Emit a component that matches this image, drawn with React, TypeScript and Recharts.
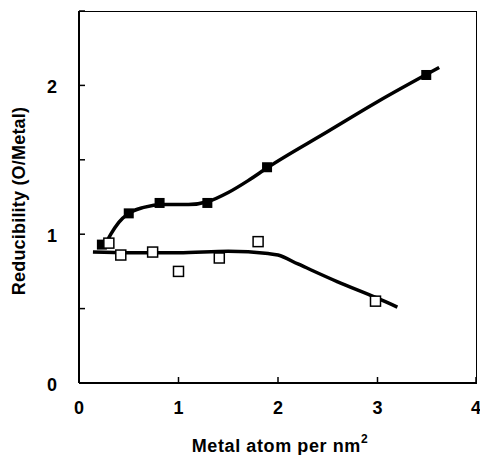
import { ComposedChart, Line, Scatter, XAxis, YAxis } from "recharts";

// measured points (filled = reduced, open = other series)
const filledX = [0.23, 0.5, 0.81, 1.29, 1.89, 3.49];
const filledY = [0.93, 1.14, 1.21, 1.21, 1.45, 2.07];
const openX = [0.3, 0.42, 0.74, 1.0, 1.41, 1.8, 2.98];
const openY = [0.94, 0.86, 0.88, 0.75, 0.84, 0.95, 0.55];

// hand-drawn fit curves
const upperCurveX = [0.25, 0.32, 0.4, 0.5, 0.65, 0.85, 1.1, 1.3, 1.5, 1.7, 1.9, 2.5, 3.0, 3.62];
const upperCurveY = [0.91, 1.0, 1.08, 1.14, 1.18, 1.2, 1.2, 1.22, 1.28, 1.36, 1.45, 1.69, 1.89, 2.12];
const lowerCurveX = [0.14, 0.5, 1.0, 1.5, 1.9, 2.0, 2.2, 2.6, 3.0, 3.2];
const lowerCurveY = [0.88, 0.875, 0.875, 0.885, 0.87, 0.86, 0.8, 0.68, 0.57, 0.51];

// top and right edges of the plot box, in data units
const frameX = [0, 4, 4];
const frameY = [2.5, 2.5, 0];

const xTicks = [0, 1, 2, 3, 4];
const yTicks = [0, 0.5, 1, 1.5, 2, 2.5];
const yLabelled = [0, 1, 2];

const zip = (xs: number[], ys: number[]) => xs.map((x, i) => ({ x, y: ys[i] }));

const FONT = "'Liberation Sans', Arial, sans-serif";

function XTick(props: any) {
  const { x, y, payload } = props;
  return (
    <g>
      <path d={`M${x},${y} V${y - 6}`} stroke="#000" strokeWidth={1.5} />
      <text x={x} y={y + 31} textAnchor="middle" fontFamily={FONT} fontWeight="bold" fontSize={18} fill="#000">
        {payload.value}
      </text>
    </g>
  );
}

function YTick(props: any) {
  const { x, y, payload } = props;
  return (
    <g>
      <path d={`M${x},${y} H${x + 6}`} stroke="#000" strokeWidth={1.5} />
      {yLabelled.includes(payload.value) && (
        <text x={x - 27} y={y + 8} textAnchor="middle" fontFamily={FONT} fontWeight="bold" fontSize={18} fill="#000">
          {payload.value}
        </text>
      )}
    </g>
  );
}

const filledSquare = (p: any) => <rect x={p.cx - 5} y={p.cy - 5} width={10} height={10} fill="#000" />;
const openSquare = (p: any) => (
  <rect x={p.cx - 5} y={p.cy - 5} width={10} height={10} fill="#fff" stroke="#000" strokeWidth={1.5} />
);

export default function App() {
  return (
    <div style={{ position: "absolute", left: 0, top: 0, width: 480, height: 455, background: "#fff" }}>
      <ComposedChart width={480} height={455} margin={{ top: 11, right: 3, left: 0, bottom: 0 }}>
        <XAxis
          type="number"
          dataKey="x"
          domain={[0, 4]}
          ticks={xTicks}
          axisLine={{ stroke: "#000", strokeWidth: 2 }}
          tickSize={0}
          tickMargin={0}
          tick={<XTick />}
          height={72}
          allowDataOverflow
        />
        <YAxis
          type="number"
          domain={[0, 2.5]}
          ticks={yTicks}
          axisLine={{ stroke: "#000", strokeWidth: 2 }}
          tickSize={0}
          tickMargin={0}
          tick={<YTick />}
          width={79}
          allowDataOverflow
        />
        <Line data={zip(frameX, frameY)} dataKey="y" type="linear" stroke="#000" strokeWidth={2} dot={false} isAnimationActive={false} />
        <Line data={zip(upperCurveX, upperCurveY)} dataKey="y" type="monotone" stroke="#000" strokeWidth={3.5} dot={false} isAnimationActive={false} />
        <Line data={zip(lowerCurveX, lowerCurveY)} dataKey="y" type="monotone" stroke="#000" strokeWidth={3.5} dot={false} isAnimationActive={false} />
        <Scatter data={zip(filledX, filledY)} dataKey="y" shape={filledSquare} isAnimationActive={false} />
        <Scatter data={zip(openX, openY)} dataKey="y" shape={openSquare} isAnimationActive={false} />
      </ComposedChart>
      <div style={{ position: "absolute", inset: 0, pointerEvents: "none", fontFamily: FONT, fontWeight: "bold", fontSize: 18, color: "#000" }}>
        <div style={{ position: "absolute", left: 0, right: 0, top: 436, lineHeight: "20px", paddingLeft: 80, textAlign: "center", letterSpacing: 0.6 }}>
          Metal atom per nm<span style={{ fontSize: 12, position: "relative", top: -9 }}>2</span>
        </div>
        <div
          style={{
            position: "absolute",
            left: 19,
            top: 201,
            transform: "translate(-50%, -50%) rotate(-90deg)",
            whiteSpace: "nowrap",
            letterSpacing: 0.2,
          }}
        >
          Reducibility (O/Metal)
        </div>
      </div>
    </div>
  );
}
